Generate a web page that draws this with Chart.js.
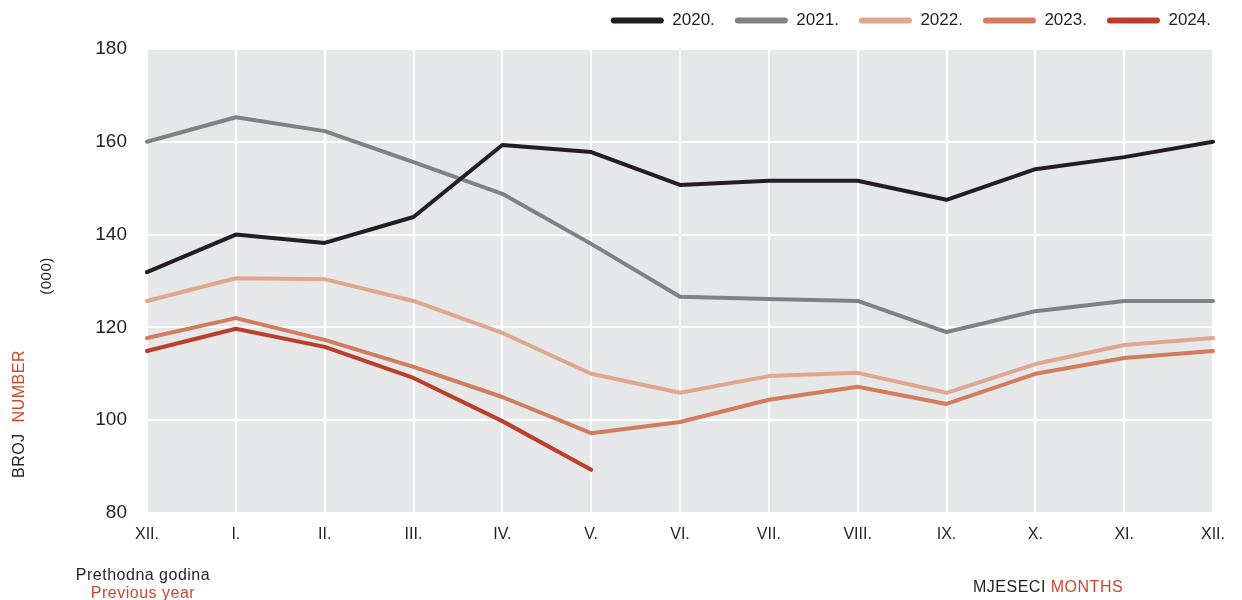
<!DOCTYPE html>
<html>
<head>
<meta charset="utf-8">
<script src="https://cdn.jsdelivr.net/npm/chart.js@4.4.1/dist/chart.umd.min.js"></script>
<style>
  html, body { margin: 0; padding: 0; background: #ffffff; }
  #wrap { width: 1242px; height: 600px; position: relative; }
</style>
</head>
<body>
<div id="wrap"><canvas id="chart" width="1242" height="600"></canvas></div>
<script>
// Months (previous year's XII. first)
const months = ['XII.', 'I.', 'II.', 'III.', 'IV.', 'V.', 'VI.', 'VII.', 'VIII.', 'IX.', 'X.', 'XI.', 'XII.'];

// Values in thousands
const y2020 = [131.9, 140.0, 138.2, 143.8, 159.3, 157.8, 150.7, 151.6, 151.6, 147.5, 154.1, 156.7, 160.0];
const y2021 = [160.0, 165.3, 162.3, 155.6, 148.8, 138.0, 126.6, 126.1, 125.7, 119.0, 123.5, 125.7, 125.7];
const y2022 = [125.7, 130.6, 130.4, 125.7, 118.8, 110.0, 105.9, 109.5, 110.2, 105.9, 112.1, 116.2, 117.7];
const y2023 = [117.7, 122.0, 117.3, 111.5, 105.0, 97.2, 99.6, 104.4, 107.2, 103.5, 110.0, 113.4, 114.9];
const y2024 = [114.9, 119.7, 115.8, 109.1, 99.8, 89.3];

const yearLabels = ['2020.', '2021.', '2022.', '2023.', '2024.'];
const yTicks = [80, 100, 120, 140, 160, 180];

const palette = ['#231f20', '#808184', '#e0a78f', '#d27b5f', '#bb3e2b'];
const textDark = '#231f20';
const textRed = '#c9492f';
const FONT = "'Liberation Sans', Arial, sans-serif";

// plot background + free texts around the axes
const decor = {
  id: 'decor',
  beforeUpdate(chart) {
    // legend box a bit taller than Chart.js computes, so the plot starts lower
    const lg = chart.legend;
    if (lg && !lg._patched) {
      const fit = lg.fit.bind(lg);
      lg.fit = function () { fit(); this.height = 49; };
      lg._patched = true;
    }
  },
  afterLayout(chart) {
    const lg = chart.legend;
    if (lg) {
      lg.top -= 8;
      lg.left += 18;
      lg.right += 18;
    }
  },
  beforeDraw(chart) {
    const { ctx, chartArea: a } = chart;
    ctx.save();
    ctx.fillStyle = '#e6e7e8';
    ctx.fillRect(a.left, a.top, a.right - a.left, a.bottom - a.top);
    ctx.restore();
  },
  afterDraw(chart) {
    const { ctx } = chart;
    ctx.save();
    ctx.font = '16px ' + FONT;
    ctx.letterSpacing = '0.5px';
    ctx.textBaseline = 'middle';

    // vertical axis title
    ctx.save();
    ctx.translate(20, 478);
    ctx.rotate(-Math.PI / 2);
    ctx.textAlign = 'left';
    ctx.fillStyle = textDark;
    ctx.fillText('BROJ', 0, 0);
    const w = ctx.measureText('BROJ ').width;
    ctx.fillStyle = textRed;
    ctx.fillText('NUMBER', w + 6, 0);
    ctx.restore();

    ctx.save();
    ctx.font = '15px ' + FONT;
    ctx.translate(47, 276);
    ctx.rotate(-Math.PI / 2);
    ctx.textAlign = 'center';
    ctx.fillStyle = textDark;
    ctx.fillText('(000)', 0, 0);
    ctx.restore();

    // bottom left note
    ctx.textAlign = 'center';
    ctx.fillStyle = textDark;
    ctx.fillText('Prethodna godina', 143, 576);
    ctx.fillStyle = textRed;
    ctx.fillText('Previous year', 143, 594);

    // bottom right axis title
    ctx.textAlign = 'left';
    ctx.fillStyle = textDark;
    ctx.fillText('MJESECI', 973, 588);
    const w2 = ctx.measureText('MJESECI ').width;
    ctx.fillStyle = textRed;
    ctx.fillText('MONTHS', 973 + w2, 588);
    ctx.restore();
  }
};

const seriesData = [y2020, y2021, y2022, y2023, y2024];

new Chart(document.getElementById('chart'), {
  type: 'line',
  data: {
    labels: months,
    datasets: seriesData.map((d, i) => ({
      label: yearLabels[i],
      data: d,
      borderColor: palette[i],
      backgroundColor: palette[i],
      borderWidth: 4,
      tension: 0,
      pointRadius: 0,
      borderCapStyle: 'round',
      borderJoinStyle: 'round'
    }))
  },
  options: {
    responsive: false,
    animation: false,
    devicePixelRatio: 1,
    layout: { padding: { left: 0, right: 29, top: 0, bottom: 0 } },
    plugins: {
      tooltip: { enabled: false },
      legend: {
        position: 'top',
        align: 'end',
        labels: {
          font: { family: FONT, size: 17 },
          color: textDark,
          boxWidth: 53,
          boxHeight: 6,
          padding: 20,
          useBorderRadius: true,
          borderRadius: 3,
          generateLabels(chart) {
            return chart.data.datasets.map((ds, i) => ({
              text: ds.label,
              fillStyle: ds.borderColor,
              strokeStyle: ds.borderColor,
              lineWidth: 0,
              fontColor: textDark,
              datasetIndex: i,
              borderRadius: 3
            }));
          }
        }
      }
    },
    scales: {
      x: {
        offset: false,
        grid: { color: '#ffffff', lineWidth: 2, drawTicks: false },
        border: { display: false },
        ticks: {
          color: textDark,
          font: { family: FONT, size: 16 },
          padding: 12,
          maxRotation: 0,
          autoSkip: false
        },
        afterFit(axis) { axis.height = 87; }
      },
      y: {
        min: 80,
        max: 180,
        afterBuildTicks(axis) { axis.ticks = yTicks.map(v => ({ value: v })); },
        grid: { color: '#ffffff', lineWidth: 2, drawTicks: false },
        border: { display: false },
        ticks: {
          color: textDark,
          font: { family: FONT, size: 19 },
          padding: 20
        },
        afterFit(axis) { axis.width = 147; }
      }
    }
  },
  plugins: [decor]
});
</script>
</body>
</html>
